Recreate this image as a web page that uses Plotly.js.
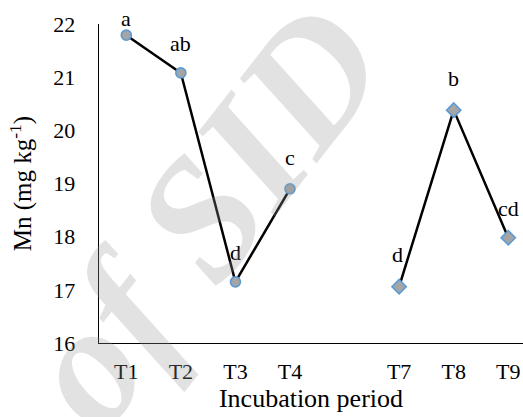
<!DOCTYPE html>
<html>
<head>
<meta charset="utf-8">
<script src="https://cdn.plot.ly/plotly-3.0.1.min.js"></script>
<style>html,body{margin:0;padding:0;background:#fff;}#chart{width:523px;height:417px;}</style>
</head>
<body>
<div id="chart"></div>
<script>
// Tick labels / categories
const categories = ["T1", "T2", "T3", "T4", "T7", "T8", "T9"];
const slotPositions = [0, 1, 2, 3, 5, 6, 7];

// Series 1 (circles): T1–T4
const series1Cats = ["T1", "T2", "T3", "T4"];
const series1Values = [21.79, 21.08, 17.15, 18.90];
const series1Letters = ["a", "ab", "d", "c"];

// Series 2 (diamonds): T7–T9
const series2Cats = ["T7", "T8", "T9"];
const series2Values = [17.06, 20.38, 17.98];
const series2Letters = ["d", "b", "cd"];

const posOf = c => slotPositions[categories.indexOf(c)];
const serif = "'Liberation Serif', 'Times New Roman', Times, serif";

const trace1 = {
  x: series1Cats.map(posOf), y: series1Values,
  mode: "lines+markers", type: "scatter", cliponaxis: false,
  line: {color: "#000000", width: 2.5},
  marker: {symbol: "circle", size: 10, color: "#a5a5a5", line: {color: "#5b9bd5", width: 1.6}},
  hoverinfo: "skip"
};
const trace2 = {
  x: series2Cats.map(posOf), y: series2Values,
  mode: "lines+markers", type: "scatter", cliponaxis: false,
  line: {color: "#000000", width: 2.5},
  marker: {symbol: "diamond", size: 11, color: "#a5a5a5", line: {color: "#5b9bd5", width: 1.6}},
  hoverinfo: "skip"
};

const labelFont = {family: serif, size: 22, color: "#000"};
const annotations = [];
series1Cats.forEach((c, i) => annotations.push({
  x: posOf(c), y: series1Values[i], xref: "x", yref: "y", text: series1Letters[i],
  showarrow: false, yshift: i === 0 ? 17 : (series1Letters[i] === "c" ? 31 : 29), font: labelFont
}));
series2Cats.forEach((c, i) => annotations.push({
  x: posOf(c), y: series2Values[i], xref: "x", yref: "y", text: series2Letters[i],
  showarrow: false, yshift: series2Letters[i] === "cd" ? 29 : 32,
  xshift: i === 0 ? -2 : 0, font: labelFont
}));
// watermark
annotations.push({
  x: 0.245, y: 0.4, xref: "paper", yref: "paper", xanchor: "center", yanchor: "middle",
  text: "<b><i>of SID</i></b>",
  showarrow: false, textangle: -52, font: {family: serif, size: 172, color: "rgba(150,150,150,0.28)"}
});

const layout = {
  width: 523, height: 417,
  margin: {l: 99, r: 0, t: 24, b: 74},
  paper_bgcolor: "#fff", plot_bgcolor: "#fff",
  showlegend: false,
  font: {family: serif, size: 22, color: "#000"},
  xaxis: {
    range: [-0.5, 7.27], tickvals: slotPositions, ticktext: categories,
    showgrid: false, zeroline: false, showline: true, linecolor: "#000", linewidth: 1.3,
    ticks: "outside", ticklen: 8, tickcolor: "rgba(0,0,0,0)",
    tickfont: {family: serif, size: 22, color: "#000"},
    title: {text: "Incubation period", font: {family: serif, size: 26, color: "#000"}, standoff: 6}
  },
  yaxis: {
    range: [16, 22], dtick: 1, showgrid: false, zeroline: false,
    showline: true, linecolor: "#000", linewidth: 1.3,
    ticks: "outside", ticklen: 18, tickcolor: "rgba(0,0,0,0)",
    tickfont: {family: serif, size: 22, color: "#000"},
    title: {text: "Mn (mg kg<sup>-1</sup>)", font: {family: serif, size: 25, color: "#000"}, standoff: 14}
  },
  annotations: annotations
};

Plotly.newPlot("chart", [trace1, trace2], layout, {staticPlot: true, displayModeBar: false});
</script>
</body>
</html>
